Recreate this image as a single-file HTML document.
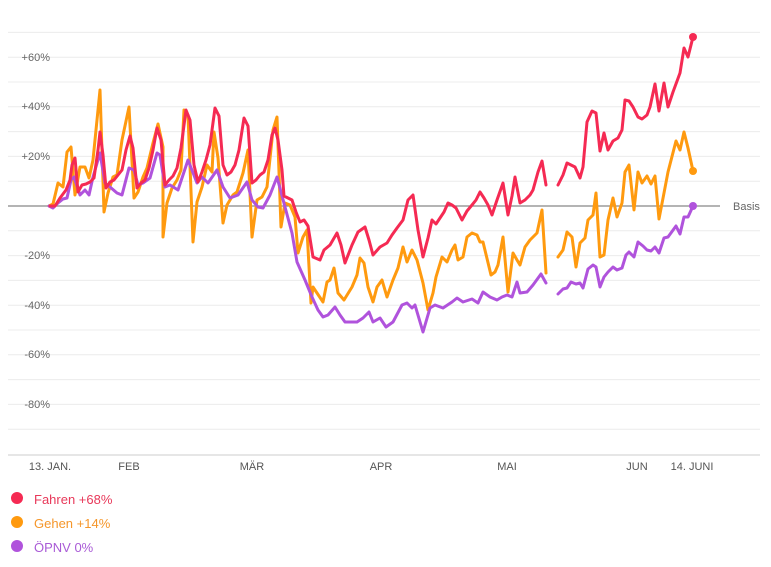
<!DOCTYPE html>
<html><head><meta charset="utf-8"><style>
html,body{margin:0;padding:0;background:#fff;}
svg{display:block;font-family:"Liberation Sans",sans-serif;}
</style></head><body>
<svg width="771" height="567" viewBox="0 0 771 567">
<g stroke="#ececec" stroke-width="1">
<line x1="8" x2="760" y1="32.4" y2="32.4"/><line x1="8" x2="760" y1="57.2" y2="57.2"/><line x1="8" x2="760" y1="82" y2="82"/><line x1="8" x2="760" y1="106.8" y2="106.8"/><line x1="8" x2="760" y1="131.6" y2="131.6"/><line x1="8" x2="760" y1="156.4" y2="156.4"/><line x1="8" x2="760" y1="181.2" y2="181.2"/><line x1="8" x2="760" y1="230.8" y2="230.8"/><line x1="8" x2="760" y1="255.6" y2="255.6"/><line x1="8" x2="760" y1="280.4" y2="280.4"/><line x1="8" x2="760" y1="305.2" y2="305.2"/><line x1="8" x2="760" y1="330" y2="330"/><line x1="8" x2="760" y1="354.8" y2="354.8"/><line x1="8" x2="760" y1="379.6" y2="379.6"/><line x1="8" x2="760" y1="404.4" y2="404.4"/><line x1="8" x2="760" y1="429.2" y2="429.2"/>
</g>
<line x1="8" x2="760" y1="455" y2="455" stroke="#e6e6e6" stroke-width="2"/>
<line x1="8" x2="720" y1="206" y2="206" stroke="#888" stroke-width="1.3"/>
<g fill="#666" font-size="11" text-anchor="end">
<text x="50" y="61">+60%</text><text x="50" y="110">+40%</text><text x="50" y="160">+20%</text>
<text x="50" y="259">-20%</text><text x="50" y="309">-40%</text><text x="50" y="358">-60%</text><text x="50" y="408">-80%</text>
</g>
<text x="733" y="210" fill="#666" font-size="11">Basis</text>
<g fill="#555" font-size="11" text-anchor="middle">
<text x="50" y="470">13. JAN.</text><text x="129" y="470">FEB</text><text x="252" y="470">MÄR</text><text x="381" y="470">APR</text><text x="507" y="470">MAI</text><text x="637" y="470">JUN</text><text x="692" y="470">14. JUNI</text>
</g>
<g fill="none" stroke-width="3" stroke-linejoin="round" stroke-linecap="round">
<polyline stroke="#ff9a0f" points="49,206 53,204 58,183 63,187 67,152 71,147 75,195 80,167 85,167 89,178 93,160 97,120 100,90 104,212 108,193 113,177 117,175 122,140 129,107 134,198 138,192 143,177 147,168 153,143 158,124 163,147 163,237 167,203 172,188 177,180 181,170 184,110 188,115 193,242 197,202 202,187 207,165 212,172 214,132 218,158 223,223 227,205 233,195 237,192 243,173 248,150 252,237 257,200 262,197 267,187 273,130 277,117 281,227 285,203 290,205 295,217 298,253 303,237 307,230 311,303 313,287 317,293 323,302 327,282 330,280 334,268 338,293 344,300 352,287 357,275 360,258 364,263 368,287 373,302 377,287 382,280 387,297 393,280 398,268 403,247 407,262 412,250 417,260 423,283 428,310 433,293 436,277 442,257 447,262 452,250 455,245 458,260 463,257 467,237 472,233 477,235 480,242 483,242 491,275 495,272 498,265 503,237 508,292 513,253 517,260 520,265 525,247 530,240 537,233 542,210 546,273"/>
<polyline stroke="#ff9a0f" points="558,257 563,250 567,232 572,237 576,267 580,243 585,238 588,220 593,215 596,193 600,257 604,255 608,220 613,198 617,217 622,203 625,172 629,165 634,210 638,172 642,183 647,176 651,184 655,176 659,219 664,193 668,172 676,141 680,150 684,132 688,148 693,171"/>
<polyline stroke="#b053dc" points="49,206 53,208 58,203 63,199 67,198 71,180 74,177 80,195 85,190 89,195 93,177 100,153 105,183 110,187 117,193 122,195 129,168 134,170 138,185 143,183 150,178 157,153 160,155 165,187 170,185 178,190 188,160 197,183 202,177 208,183 217,170 223,187 230,198 238,195 247,182 252,200 258,207 263,208 270,195 277,177 285,207 292,233 297,262 305,280 312,297 318,310 323,317 328,315 335,307 340,315 345,322 357,322 363,318 369,312 373,322 380,318 386,327 393,322 402,305 407,303 412,308 415,305 423,332 430,308 435,305 443,308 452,302 457,298 463,302 472,299 478,303 483,292 490,297 497,300 502,297 507,295 512,297 517,282 520,293 527,292 533,285 541,274 546,283"/>
<polyline stroke="#b053dc" points="558,294 563,289 567,288 571,282 576,284 580,283 583,288 588,269 593,265 596,267 600,287 604,277 608,272 613,267 617,270 622,268 626,255 629,252 634,257 638,242 643,246 647,250 651,251 655,247 659,253 664,238 668,237 676,226 680,234 684,217 688,217 693,206"/>
<polyline stroke="#f52a53" points="50,206 55,206 60,198 66,190 70,180 72,165 75,158 78,192 82,185 86,184 90,182 94,178 98,150 100,132 103,155 106,188 110,182 114,180 118,175 122,170 126,150 130,136 133,148 137,188 141,183 145,180 149,168 153,150 157,128 161,140 165,185 169,180 173,176 177,168 181,148 186,110 190,120 194,165 198,182 202,172 206,160 210,145 215,108 219,116 223,165 227,175 231,172 235,165 239,150 244,118 248,126 252,183 256,180 260,175 264,172 268,160 272,135 275,128 278,140 282,170 284,196 288,198 292,200 296,212 300,222 304,220 308,226 313,257 320,260 324,250 330,245 337,233 341,245 345,263 352,245 358,232 365,227 369,240 373,255 380,247 387,243 392,235 397,228 403,220 408,200 413,195 418,230 423,257 428,238 432,220 436,224 440,218 444,212 448,203 452,205 456,208 462,220 467,211 472,205 476,200 480,192 484,198 488,205 492,215 497,200 503,183 508,215 512,196 515,177 520,203 525,200 530,195 533,190 538,172 542,161 546,185"/>
<polyline stroke="#f52a53" points="558,185 563,175 567,163 575,167 580,178 583,167 587,122 592,111 596,113 600,151 604,133 608,150 613,141 618,138 622,130 625,100 629,101 633,107 638,117 642,119 647,115 650,107 655,84 659,111 664,83 668,107 673,92 680,73 684,48 688,57 693,37"/>
</g>
<circle cx="693" cy="37" r="4" fill="#f52a53"/>
<circle cx="693" cy="171" r="4" fill="#ff9a0f"/>
<circle cx="693" cy="206" r="4" fill="#b053dc"/>
<circle cx="17" cy="498" r="6" fill="#f52a53"/>
<circle cx="17" cy="522" r="6" fill="#ff9a0f"/>
<circle cx="17" cy="546" r="6" fill="#b053dc"/>
<g font-size="13">
<text x="34" y="504" fill="#e8395a">Fahren +68%</text>
<text x="34" y="528" fill="#f5962a">Gehen +14%</text>
<text x="34" y="552" fill="#a95bd6">ÖPNV 0%</text>
</g>
</svg>
</body></html>
